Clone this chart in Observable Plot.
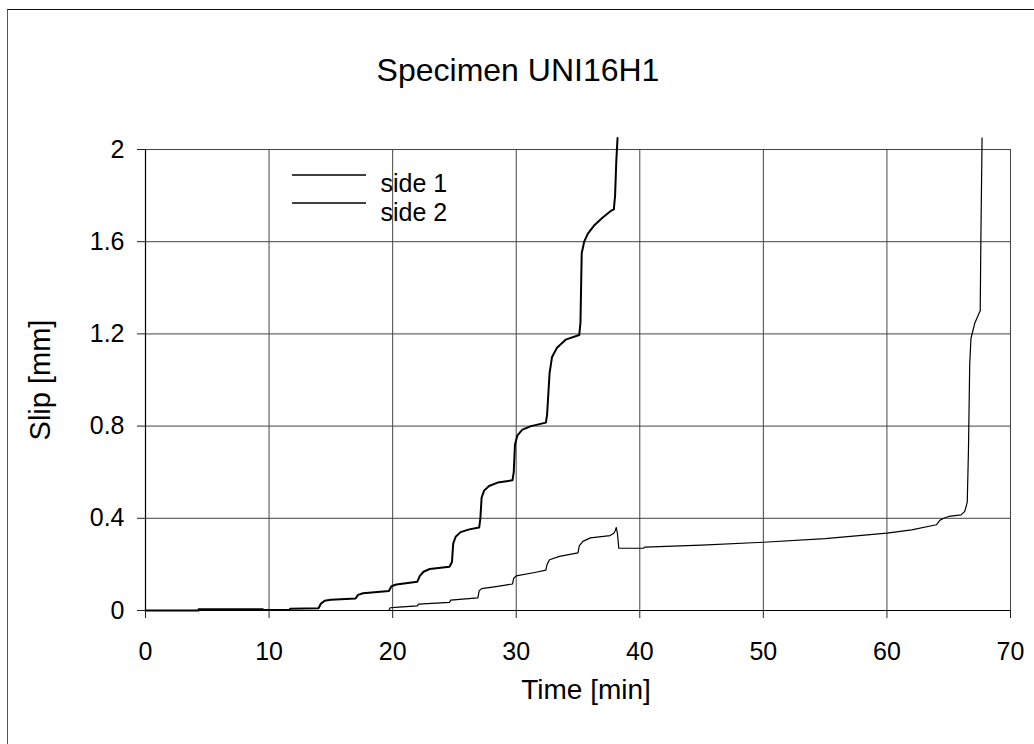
<!DOCTYPE html>
<html>
<head>
<meta charset="utf-8">
<script src="https://cdn.jsdelivr.net/npm/d3@7"></script>
<script src="https://cdn.jsdelivr.net/npm/@observablehq/plot@0.6"></script>
<style>
  html, body { margin: 0; padding: 0; background: #fff; }
  #wrap { position: relative; width: 1034px; height: 744px; overflow: hidden; font-family: "Liberation Sans", Arial, sans-serif; }
  #border { position: absolute; left: 7px; top: 9px; width: 1100px; height: 800px; border-left: 1.5px solid #555; border-top: 1.5px solid #111; }
  #legend { position: absolute; left: 0; top: 0; }
</style>
</head>
<body>
<div id="wrap"><div id="border"></div></div>
<script>
// Time [min] and Slip [mm] for side 1
const side1Time = [0, 4.3, 4.3, 9.5, 9.5, 11.7, 11.7, 14.0, 14.2, 14.5, 15.0, 17.0, 17.2, 17.6, 19.7, 19.9, 20.3, 22.0, 22.2, 22.5, 23.0, 24.6, 24.8, 24.9, 25.1, 25.5, 26.2, 27.0, 27.1, 27.2, 27.4, 27.8, 28.5, 29.7, 29.8, 29.9, 30.1, 30.5, 31.2, 32.4, 32.5, 32.7, 32.9, 33.3, 34.0, 35.1, 35.2, 35.3, 35.5, 35.8, 36.3, 37.0, 37.7, 37.9, 38.0, 38.1, 38.2];
const side1Slip = [0, 0, 0.005, 0.005, 0.002, 0.003, 0.008, 0.01, 0.03, 0.042, 0.047, 0.052, 0.068, 0.075, 0.085, 0.105, 0.113, 0.125, 0.15, 0.168, 0.18, 0.19, 0.21, 0.29, 0.32, 0.34, 0.352, 0.36, 0.40, 0.49, 0.52, 0.54, 0.555, 0.565, 0.60, 0.72, 0.76, 0.785, 0.80, 0.815, 0.85, 1.03, 1.10, 1.14, 1.175, 1.195, 1.25, 1.55, 1.60, 1.635, 1.67, 1.705, 1.735, 1.74, 1.80, 1.95, 2.05];
// Time [min] and Slip [mm] for side 2
const side2Time = [0, 19.7, 19.8, 20.5, 22.0, 22.1, 24.6, 24.7, 26.9, 27.0, 27.2, 28.5, 29.7, 29.8, 30.0, 31.5, 32.4, 32.5, 32.7, 33.5, 35.0, 35.1, 35.4, 36.0, 37.6, 37.9, 38.0, 38.1, 38.2, 38.3, 40.3, 40.4, 45, 50, 55, 60, 62, 64.0, 64.3, 64.6, 65.0, 66.0, 66.3, 66.5, 66.6, 66.7, 66.8, 67.1, 67.5, 67.55, 67.6, 67.7];
const side2Slip = [0, 0, 0.012, 0.015, 0.02, 0.028, 0.035, 0.045, 0.055, 0.085, 0.095, 0.105, 0.115, 0.14, 0.15, 0.165, 0.175, 0.20, 0.22, 0.235, 0.25, 0.28, 0.30, 0.315, 0.325, 0.335, 0.345, 0.36, 0.33, 0.27, 0.27, 0.275, 0.284, 0.296, 0.312, 0.336, 0.35, 0.372, 0.392, 0.40, 0.408, 0.415, 0.43, 0.47, 0.70, 1.07, 1.18, 1.245, 1.295, 1.30, 1.60, 2.05];

const xTicks = [0, 10, 20, 30, 40, 50, 60, 70];
const yTicks = [0, 0.4, 0.8, 1.2, 1.6, 2];
const seriesNames = ["side 1", "side 2"];
const titleText = "Specimen UNI16H1";
const xLabel = "Time [min]";
const yLabel = "Slip [mm]";

const s1 = side1Time.map((t, i) => ({t, v: side1Slip[i]}));
const s2 = side2Time.map((t, i) => ({t, v: side2Slip[i]}));

const font = "Liberation Sans, Arial, sans-serif";
const chart = Plot.plot({
  width: 1034,
  height: 744,
  marginLeft: 145,
  marginRight: 24,
  marginTop: 149,
  marginBottom: 134,
  style: {fontFamily: font, background: "transparent", overflow: "visible"},
  x: {domain: [0, 70], label: null},
  y: {domain: [0, 2], label: null},
  marks: [
    Plot.gridX(xTicks.slice(1), {stroke: "#444", strokeOpacity: 1, strokeWidth: 1}),
    Plot.gridY(yTicks.slice(1), {stroke: "#444", strokeOpacity: 1, strokeWidth: 1}),
    Plot.axisX({ticks: xTicks, tickSize: 8, tickPadding: 24, fontSize: 25, stroke: "#222", fill: "#000", tickFormat: d => String(d), label: null}),
    Plot.axisY({ticks: yTicks, tickSize: 8, tickPadding: 13, fontSize: 25, stroke: "#222", fill: "#000", tickFormat: d => String(d), label: null}),
    Plot.ruleX([0], {stroke: "#000", strokeWidth: 1.2}),
    Plot.ruleY([0], {stroke: "#000", strokeWidth: 1.2}),
    Plot.line(s2, {x: "t", y: "v", stroke: "#000", strokeWidth: 1.2}),
    Plot.line(s1, {x: "t", y: "v", stroke: "#000", strokeWidth: 2}),
    Plot.text([titleText], {frameAnchor: "top", lineAnchor: "middle", dx: -60, dy: -79, fontSize: 32, fill: "#000", fontFamily: font}),
    Plot.text([xLabel], {frameAnchor: "bottom", lineAnchor: "middle", dx: 8, dy: 80, fontSize: 28, fill: "#000", fontFamily: font}),
    Plot.text([yLabel], {frameAnchor: "left", textAnchor: "middle", lineAnchor: "middle", dx: -105, rotate: -90, fontSize: 29, fill: "#000", fontFamily: font}),
    Plot.text([seriesNames[0]], {frameAnchor: "top-left", lineAnchor: "middle", dx: 235, dy: 34, textAnchor: "start", fontSize: 25, fill: "#000", fontFamily: font}),
    Plot.text([seriesNames[1]], {frameAnchor: "top-left", lineAnchor: "middle", dx: 235, dy: 63, textAnchor: "start", fontSize: 25, fill: "#000", fontFamily: font})
  ]
});
chart.style.position = "absolute";
chart.style.left = "0px";
chart.style.top = "0px";
document.getElementById("wrap").appendChild(chart);

// legend line samples
const ns = "http://www.w3.org/2000/svg";
const leg = document.createElementNS(ns, "svg");
leg.setAttribute("id", "legend");
leg.setAttribute("width", 1034);
leg.setAttribute("height", 744);
[[175, 1.6], [203, 1.3]].forEach(([yy, w]) => {
  const l = document.createElementNS(ns, "line");
  l.setAttribute("x1", 292); l.setAttribute("x2", 366);
  l.setAttribute("y1", yy); l.setAttribute("y2", yy);
  l.setAttribute("stroke", "#000"); l.setAttribute("stroke-width", w);
  leg.appendChild(l);
});
document.getElementById("wrap").appendChild(leg);
</script>
</body>
</html>
